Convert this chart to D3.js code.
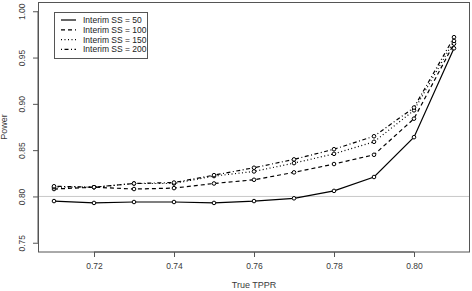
<!DOCTYPE html>
<html><head><meta charset="utf-8">
<script src="https://cdn.jsdelivr.net/npm/d3@7"></script>
<style>body{margin:0;background:#fff}svg{display:block}text{font-family:"Liberation Sans",Arial,sans-serif;fill:#333}</style>
</head><body>
<script>
const tppr = [0.71,0.72,0.73,0.74,0.75,0.76,0.77,0.78,0.79,0.80,0.81];
const ss50  = [0.795,0.793,0.794,0.794,0.793,0.795,0.798,0.806,0.821,0.864,0.960];
const ss100 = [0.808,0.810,0.808,0.809,0.814,0.818,0.826,0.835,0.845,0.884,0.965];
const ss150 = [0.810,0.810,0.814,0.814,0.822,0.827,0.836,0.846,0.859,0.893,0.968];
const ss200 = [0.811,0.810,0.814,0.815,0.823,0.831,0.840,0.851,0.865,0.896,0.972];
const seriesNames = ["Interim SS = 50","Interim SS = 100","Interim SS = 150","Interim SS = 200"];
const xTicks = [0.72,0.74,0.76,0.78,0.80];
const yTicks = [0.75,0.80,0.85,0.90,0.95,1.00];
const refLine = 0.80;

const W=472,H=291;
const svg=d3.select("body").append("svg").attr("width",W).attr("height",H);
const x=d3.scaleLinear().domain([0.706,0.814]).range([38,470]);
const y=d3.scaleLinear().domain([0.74,1.01]).range([252,2]);
const dashes=[null,"4,3","1,2.5","1,2.5,4,2.5"];
const series=[ss50,ss100,ss150,ss200];
const axisCol="#555";

// reference line
svg.append("line").attr("x1",x.range()[0]).attr("x2",x.range()[1])
  .attr("y1",y(refLine)).attr("y2",y(refLine)).attr("stroke","#c8c8c8").attr("stroke-width",1);

// box
svg.append("rect").attr("x",38.5).attr("y",2.5).attr("width",431).attr("height",249.5)
  .attr("fill","none").attr("stroke",axisCol).attr("stroke-width",1);

// axes
const xa=svg.append("g").attr("transform","translate(0,252)")
  .call(d3.axisBottom(x).tickValues(xTicks).tickFormat(d3.format(".2f")).tickSize(5).tickPadding(6));
const ya=svg.append("g").attr("transform","translate(38,0)")
  .call(d3.axisLeft(y).tickValues(yTicks).tickFormat(d3.format(".2f")).tickSize(5).tickPadding(5));
[xa,ya].forEach(g=>{g.select(".domain").remove();g.selectAll("line").attr("stroke",axisCol);
  g.selectAll("text").attr("font-size",8.5).style("fill","#3a3a3a").attr("font-family","Liberation Sans, Arial, sans-serif");});
xa.append("line").attr("x1",x(0.72)).attr("x2",x(0.80)).attr("stroke",axisCol);
ya.append("line").attr("y1",y(0.75)).attr("y2",y(1.0)).attr("stroke",axisCol);
ya.selectAll(".tick text").attr("text-anchor","middle").attr("dx",0).attr("x",0).attr("dy",0)
  .attr("transform","translate(-13.5,0) rotate(-90)");

svg.append("text").attr("x",(x(0.706)+x(0.814))/2).attr("y",288).attr("text-anchor","middle")
  .attr("font-size",9).style("fill","#3a3a3a").text("True TPPR");
svg.append("text").attr("transform","translate(7,127) rotate(-90)").attr("text-anchor","middle")
  .attr("font-size",9).style("fill","#3a3a3a").text("Power");

// series
const line=d3.line().x((d,i)=>x(tppr[i])).y(d=>y(d));
series.forEach((s,k)=>{
  svg.append("path").datum(s).attr("d",line).attr("fill","none").attr("stroke","#000")
    .attr("stroke-width",1.2).attr("stroke-dasharray",dashes[k]);
  svg.selectAll(null).data(s).enter().append("circle")
    .attr("cx",(d,i)=>x(tppr[i])).attr("cy",d=>y(d)).attr("r",1.8)
    .attr("fill","#fff").attr("stroke","#000").attr("stroke-width",1);
});

// legend
const lg=svg.append("g");
lg.append("rect").attr("x",54.5).attr("y",12.5).attr("width",93).attr("height",46)
  .attr("fill","#fff").attr("stroke",axisCol).attr("stroke-width",1);
seriesNames.forEach((n,k)=>{
  const yy=20+k*9.8;
  lg.append("line").attr("x1",61).attr("x2",76).attr("y1",yy).attr("y2",yy)
    .attr("stroke","#000").attr("stroke-width",1.2).attr("stroke-dasharray",dashes[k]);
  lg.append("text").attr("x",83).attr("y",yy+3).attr("font-size",8.5).style("fill","#222").text(n);
});
</script>
</body></html>
